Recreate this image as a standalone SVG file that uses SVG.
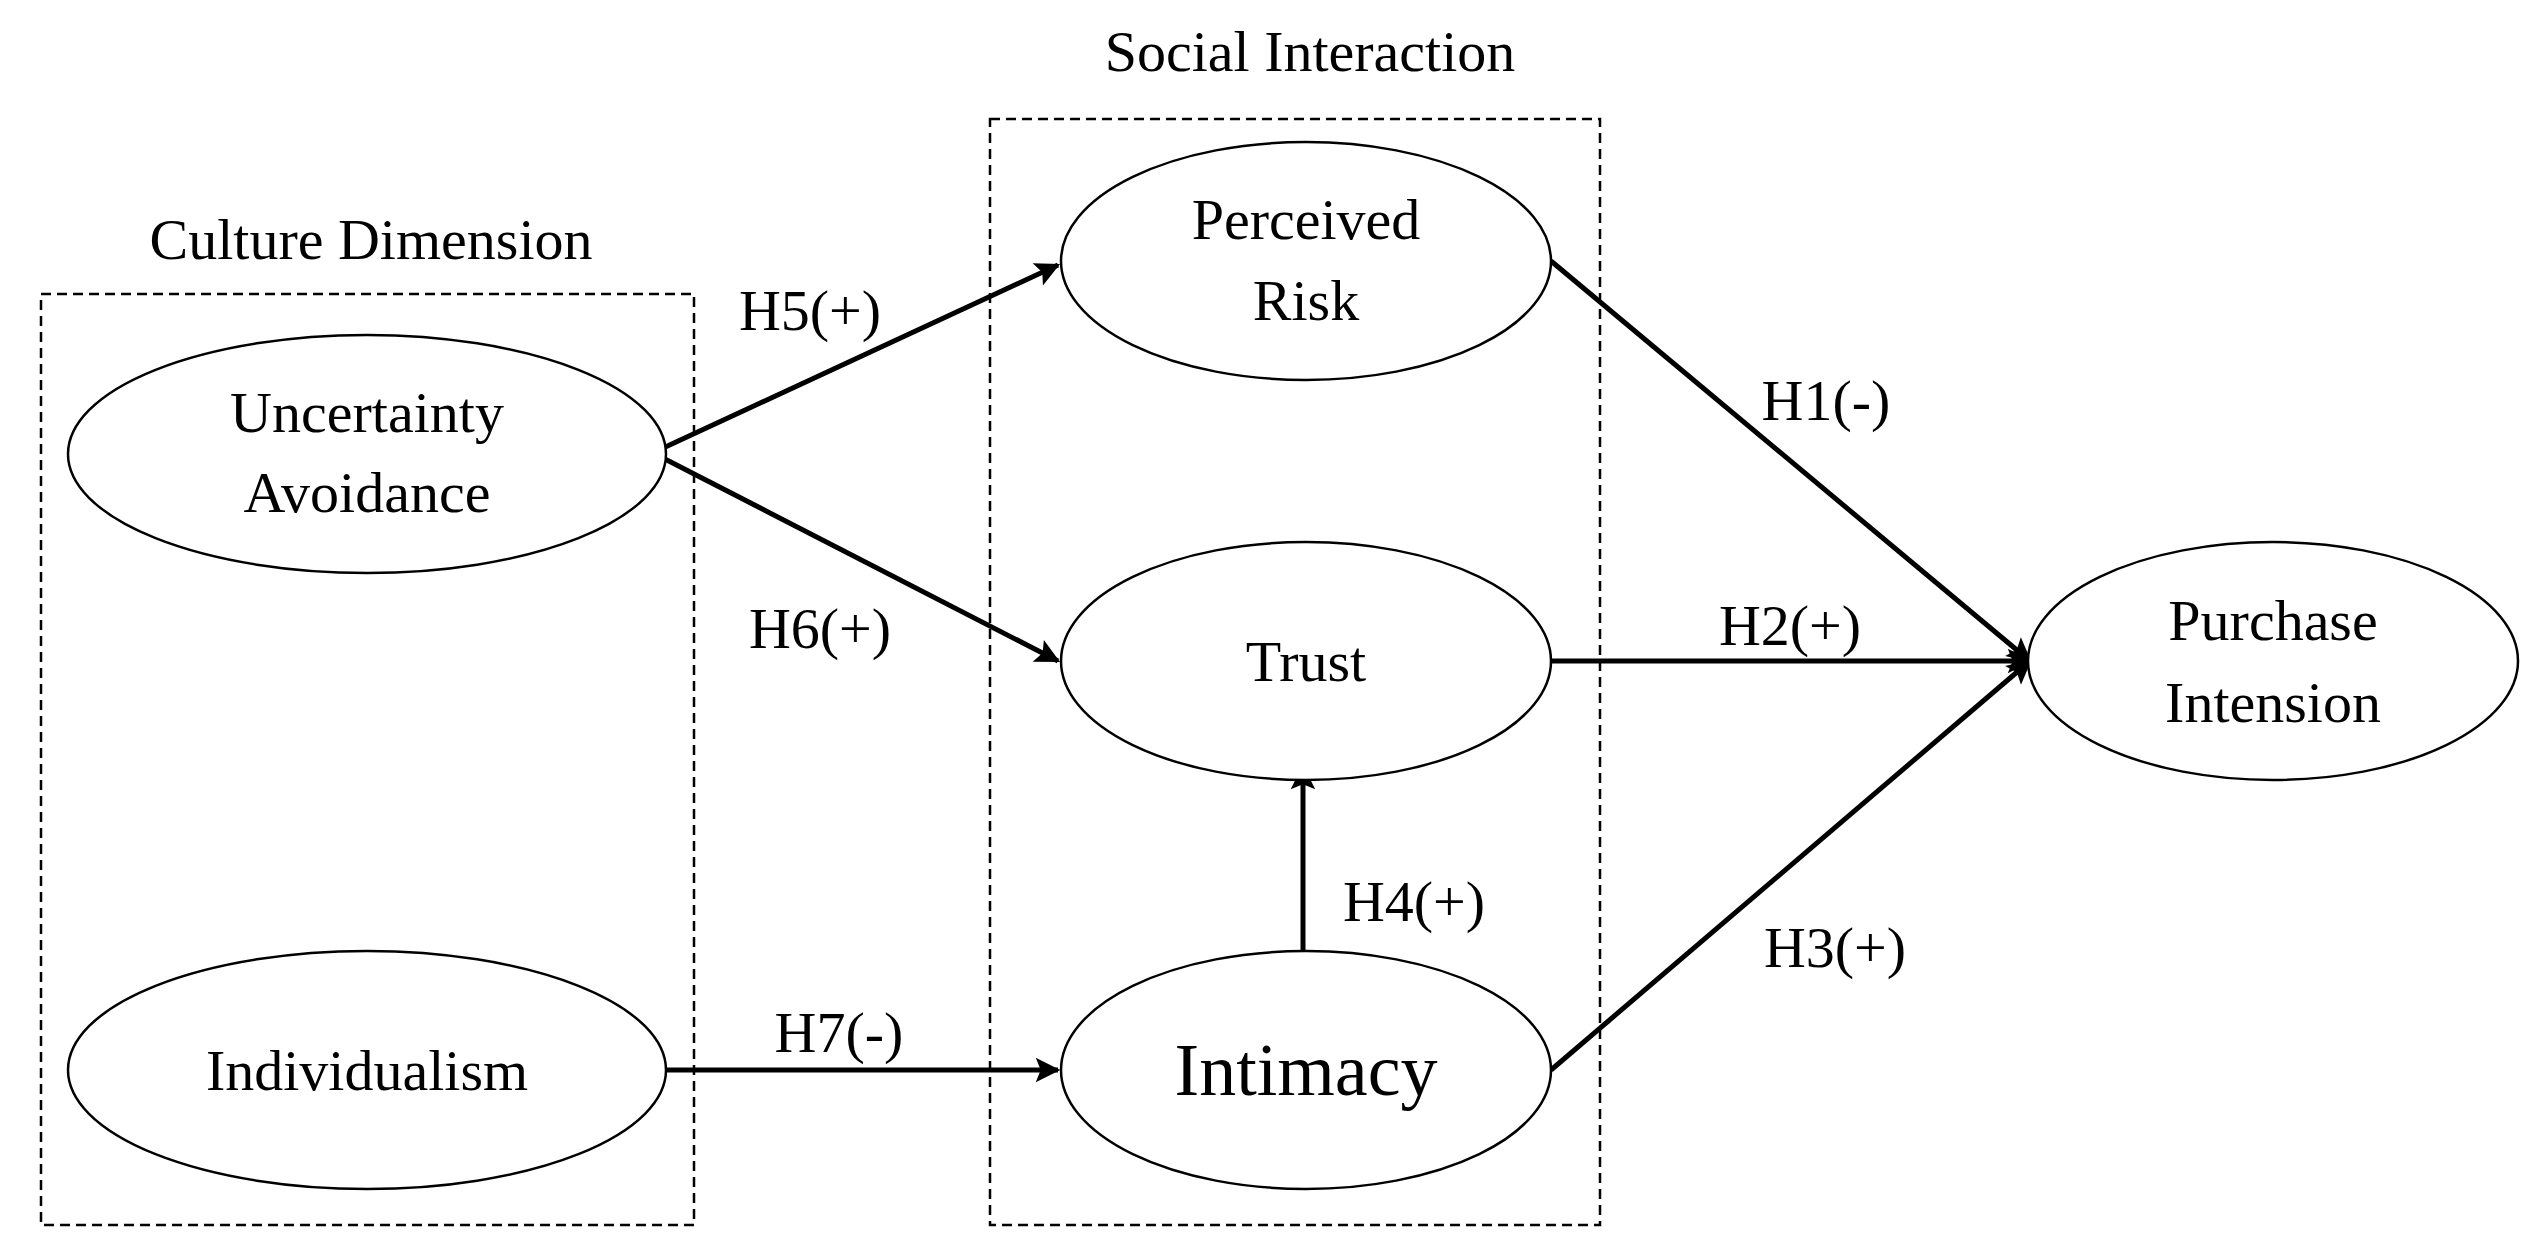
<svg xmlns="http://www.w3.org/2000/svg" width="2548" height="1253" viewBox="0 0 2548 1253">
<style>
text{font-family:"Liberation Serif","Times New Roman",serif;font-size:58px;fill:#000;text-anchor:middle}
.n{fill:#fff;stroke:#000;stroke-width:2.5}
.box{fill:none;stroke:#000;stroke-width:2.5;stroke-dasharray:10 6}
.c{stroke:#000;stroke-width:5;fill:none;marker-end:url(#ah)}
</style>
<defs><marker id="ah" viewBox="0 0 10 10" refX="9" refY="5" markerWidth="7" markerHeight="7" markerUnits="userSpaceOnUse" orient="auto" style="overflow:visible"><path d="M0,0 L10,5 L0,10 L2,5 Z" fill="#000" transform="scale(3.5) translate(-6.5,-3.6)"/></marker></defs>
<rect fill="#fff" width="2548" height="1253"/>
<g id="groups">
<rect class="box" x="41" y="294" width="653" height="931"/>
<text x="371" y="259">Culture Dimension</text>
<rect class="box" x="990" y="119" width="610" height="1106"/>
<text x="1310" y="71">Social Interaction</text>
</g>
<g id="connectors">
<line class="c" x1="661" y1="449" x2="1058" y2="265"/>
<line class="c" x1="661" y1="457" x2="1058" y2="661"/>
<line class="c" x1="661" y1="1070" x2="1058" y2="1070"/>
<line class="c" x1="1303" y1="963" x2="1303" y2="767"/>
<line class="c" x1="1551" y1="261" x2="2030" y2="661"/>
<line class="c" x1="1551" y1="661" x2="2030" y2="661"/>
<line class="c" x1="1551" y1="1070" x2="2030" y2="661"/>
<text x="810" y="330">H5(+)</text>
<text x="820" y="648">H6(+)</text>
<text x="839" y="1052">H7(-)</text>
<text x="1414" y="921">H4(+)</text>
<text x="1826" y="420">H1(-)</text>
<text x="1790" y="645">H2(+)</text>
<text x="1835" y="967">H3(+)</text>
</g>
<g id="ua"><ellipse class="n" cx="367" cy="454" rx="299" ry="119"/><text x="367" y="432">Uncertainty</text><text x="367" y="512">Avoidance</text></g>
<g id="ind"><ellipse class="n" cx="367" cy="1070" rx="299" ry="119"/><text x="367" y="1090">Individualism</text></g>
<g id="pr"><ellipse class="n" cx="1306" cy="261" rx="245" ry="119"/><text x="1306" y="239">Perceived</text><text x="1306" y="320">Risk</text></g>
<g id="trust"><ellipse class="n" cx="1306" cy="661" rx="245" ry="119"/><text x="1306" y="681">Trust</text></g>
<g id="intimacy"><ellipse class="n" cx="1306" cy="1070" rx="245" ry="119"/><text x="1306" y="1095" style="font-size:74px">Intimacy</text></g>
<g id="pi"><ellipse class="n" cx="2273" cy="661" rx="245" ry="119"/><text x="2273" y="640">Purchase</text><text x="2273" y="722">Intension</text></g>
</svg>
